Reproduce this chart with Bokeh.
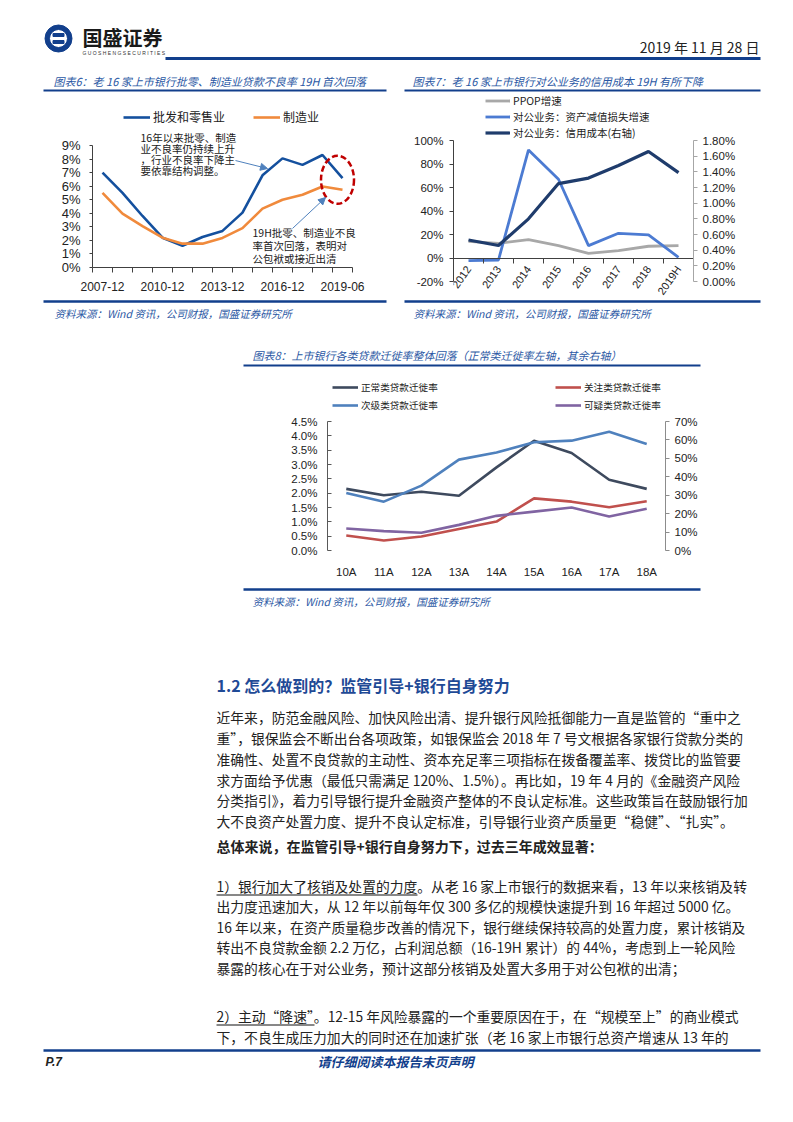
import numpy as np
from bokeh.plotting import figure
from bokeh.models import (Range1d, FixedTicker, PrintfTickFormatter, LinearAxis,
                          Legend, LegendItem, Label, Arrow, NormalHead)
from bokeh.layouts import column, row
from bokeh.embed import file_html
from bokeh.resources import INLINE
from bokeh.core.properties import value

# ---------------- data ----------------
# Chart 6: NPL ratio by industry (%)
cats6 = ["2007-12", "2008-12", "2009-12", "2010-12", "2011-12", "2012-12", "2013-12",
         "2014-12", "2015-12", "2016-12", "2017-12", "2018-12", "2019-06"]
wholesale_retail = [7.0, 5.5, 3.8, 2.2, 1.6, 2.25, 2.7, 4.05, 6.8, 8.05, 7.57, 8.3, 6.6]
manufacturing = [5.5, 3.97, 3.06, 2.2, 1.76, 1.76, 2.18, 2.9, 4.34, 5.0, 5.37, 5.98, 5.74]
label_step6 = 3
ticks6 = list(range(0, 10))

# Chart 7
cats7 = ["2012", "2013", "2014", "2015", "2016", "2017", "2018", "2019H"]
ppop_growth = [14.2, 12.5, 15.6, 10.5, 4.0, 6.2, 10.0, 10.5]
impair_growth = [-2.3, -1.7, 92.0, 67.0, 10.5, 21.0, 19.6, 0.6]
credit_cost = [0.53, 0.46, 0.80, 1.25, 1.32, 1.48, 1.66, 1.39]
ticks7_left = list(range(-20, 101, 20))
ticks7_right = [round(0.2 * k, 1) for k in range(10)]

# Chart 8
cats8 = ["10A", "11A", "12A", "13A", "14A", "15A", "16A", "17A", "18A"]
normal_mig = [2.15, 1.93, 2.05, 1.91, 2.9, 3.83, 3.4, 2.47, 2.15]
special_mig = [8.1, 5.4, 7.6, 11.7, 15.7, 28.3, 26.5, 23.5, 26.7]
substd_mig = [31.2, 26.5, 35.2, 49.3, 53.2, 58.7, 59.6, 64.4, 57.8]
doubt_mig = [11.9, 10.5, 9.6, 13.9, 18.8, 21.1, 23.3, 18.4, 22.6]
ticks8_left = [round(0.5 * k, 1) for k in range(10)]
ticks8_right = list(range(0, 71, 10))

# ---------------- styles ----------------
CJK = "Noto Sans CJK SC"
NUM = "Liberation Sans"
BRAND = "#123F8C"
TBLUE = "#2B58A4"
DARK = "#222222"
W = 793


def page_fig(top, bottom):
    p = figure(width=W, height=bottom - top, x_range=Range1d(0, W),
               y_range=Range1d(bottom, top), x_axis_type=None, y_axis_type=None,
               toolbar_location=None, output_backend="svg", min_border=0,
               min_border_left=0, min_border_right=0, min_border_top=0,
               min_border_bottom=0, outline_line_color=None)
    return p


def txt(p, x, y, s, size, color=DARK, style="normal", align="left", font=CJK):
    p.text(x=[x], y=[y], text=[s], text_font=value(font), text_font_size=size,
           text_color=color, text_font_style=style, text_align=align,
           text_baseline="middle")


def rule(p, x0, x1, y, w=2.0, color=BRAND):
    p.segment(x0=[x0], y0=[y], x1=[x1], y1=[y], line_color=color, line_width=w)


def style_axis(ax, size="11px", color="#404040"):
    ax.major_label_text_font = NUM
    ax.major_label_text_font_size = size
    ax.major_label_text_color = DARK
    ax.axis_line_color = color
    ax.major_tick_line_color = color
    ax.minor_tick_line_color = color
    ax.axis_line_width = 1


# ---------------- header (page y 0..92) ----------------
pA = page_fig(0, 92)
pA.annulus(x=[58], y=[38], inner_radius=9, outer_radius=13.5, color=BRAND)
pA.rect(x=[58], y=[34.5], width=11, height=3, color=BRAND)
pA.rect(x=[58], y=[41.5], width=11, height=3, color=BRAND)
txt(pA, 82, 37, "国盛证券", "20px", color="#1a1a1a", style="bold")
txt(pA, 82, 52, "G U O S H E N G   S E C U R I T I E S", "5px", color="#333333", font=NUM)
txt(pA, 759, 46, "2019 年 11 月 28 日", "14px", color=DARK, align="right")
rule(pA, 165, 760, 58, w=3)
txt(pA, 53, 80, "图表6：老 16 家上市银行批零、制造业贷款不良率 19H 首次回落", "11px",
    color=TBLUE, style="italic")
txt(pA, 412, 80, "图表7：老 16 家上市银行对公业务的信用成本 19H 有所下降", "11px",
    color=TBLUE, style="italic")
rule(pA, 43, 386, 90, w=2)
rule(pA, 404, 760, 90, w=2)

# ---------------- chart 6 (page x 0..400, y 92..298) ----------------
n6 = len(cats6)
x6 = list(range(n6))
# pixel geometry: frame 92..267 vertically, 0% at 267, 9% at 145; x 92..360 (category axis to 352)
px_per6 = (267 - 145) / 9.0
y6_end = (267 - 92) / px_per6
x6_end = (n6 - 0.5) + (360 - 352) / 20.0
p6 = figure(width=400, height=206, x_range=Range1d(-0.5, x6_end), y_range=Range1d(0, y6_end),
            toolbar_location=None, output_backend="svg", min_border_left=92,
            min_border_right=40, min_border_top=0, min_border_bottom=31,
            outline_line_color=None)
p6.grid.visible = False
r_w = p6.line(x6, wholesale_retail, line_color="#14509E", line_width=2.6)
r_m = p6.line(x6, manufacturing, line_color="#F08A3C", line_width=2.6)
xa6 = p6.xaxis[0]
major6 = x6[::label_step6]
xa6.ticker = FixedTicker(ticks=major6, minor_ticks=[i - 0.5 for i in range(n6 + 1)])
xa6.major_label_overrides = {i: cats6[i] for i in major6}
xa6.bounds = (-0.5, n6 - 0.5)
style_axis(xa6, "12px")
xa6.major_tick_out = 0
xa6.major_tick_in = 0
xa6.minor_tick_out = 5
xa6.minor_tick_in = 0
xa6.major_label_standoff = 9
ya6 = p6.yaxis[0]
ya6.ticker = FixedTicker(ticks=ticks6)
ya6.formatter = PrintfTickFormatter(format="%d%%")
ya6.bounds = (ticks6[0], ticks6[-1])
style_axis(ya6, "13px")
ya6.major_tick_out = 3
ya6.major_tick_in = 0
ya6.minor_tick_out = 0
ya6.major_label_standoff = 9

leg6 = Legend(items=[LegendItem(label="批发和零售业", renderers=[r_w]),
                     LegendItem(label="制造业", renderers=[r_m])],
              location=(31, 142), orientation="horizontal", label_text_font=CJK,
              label_text_font_size="12px", label_text_color=DARK, glyph_width=27,
              glyph_height=14, label_height=14, label_standoff=3, spacing=28,
              padding=0, margin=0, border_line_color=None, background_fill_alpha=0)
p6.add_layout(leg6)

ANN = "#1a1a1a"
for s, yy in zip(["16年以来批零、制造", "业不良率仍持续上升", "，行业不良率下降主", "要依靠结构调整。"],
                 [9.59, 8.78, 7.97, 7.16]):
    p6.add_layout(Label(x=1.9, y=yy, text=s, text_font=CJK, text_font_size="10.5px",
                        text_color=ANN, text_baseline="middle"))
for s, yy in zip(["19H批零、制造业不良", "率首次回落，表明对", "公包袱或接近出清"],
                 [2.58, 1.62, 0.66]):
    p6.add_layout(Label(x=7.5, y=yy, text=s, text_font=CJK, text_font_size="10.5px",
                        text_color=ANN, text_baseline="middle"))
AC = "#4F81BD"
p6.add_layout(Arrow(end=NormalHead(size=7, fill_color=AC, line_color=AC),
                    x_start=6.65, y_start=7.89, x_end=8.25, y_end=7.30,
                    line_color=AC, line_width=1))
p6.add_layout(Arrow(end=NormalHead(size=7, fill_color=AC, line_color=AC),
                    x_start=9.5, y_start=2.88, x_end=11.15, y_end=5.16,
                    line_color=AC, line_width=1))
p6.ellipse(x=[n6 - 1 - 0.25], y=[(wholesale_retail[-1] + manufacturing[-1]) / 2 + 0.3],
           width=33, height=48, width_units="screen", height_units="screen",
           fill_color=None, line_color="#C00000", line_width=2.5, line_dash="6 3")

# ---------------- chart 7 (page x 400..793, y 92..298) ----------------
n7 = len(cats7)
x7 = list(range(n7))
# pixel geometry: -20% at 281, 100% at 140; frame 92..298
F7_BOT = 298
ppu7 = (281 - 140) / 120.0
y7_start = -20 - (F7_BOT - 281) / ppu7
y7_end = 100 + (140 - 92) / ppu7
ppu7r = (281 - 140) / 1.8
r7_start = 0 - (F7_BOT - 281) / ppu7r
r7_end = 1.8 + (140 - 92) / ppu7r
p7 = figure(width=393, height=206, x_range=Range1d(-0.5, n7 - 0.5),
            y_range=Range1d(y7_start, y7_end),
            toolbar_location=None, output_backend="svg", min_border_left=53,
            min_border_right=100, min_border_top=0, min_border_bottom=0,
            outline_line_color=None)
p7.grid.visible = False
p7.extra_y_ranges = {"cc": Range1d(r7_start, r7_end)}
r_p = p7.line(x7, ppop_growth, line_color="#A8A8A8", line_width=2.8)
r_i = p7.line(x7, impair_growth, line_color="#4C7BD2", line_width=2.8)
r_c = p7.line(x7, credit_cost, line_color="#1F3C6C", line_width=3.2, y_range_name="cc")
xa7 = p7.xaxis[0]
xa7.fixed_location = 0
xa7.ticker = FixedTicker(ticks=x7, minor_ticks=[i - 0.5 for i in range(n7 + 1)])
xa7.major_label_overrides = {i: cats7[i] for i in x7}
style_axis(xa7, "11px")
xa7.major_tick_out = 0
xa7.major_tick_in = 0
xa7.minor_tick_out = 5
xa7.minor_tick_in = 0
xa7.major_label_orientation = 0.96
xa7.major_label_standoff = 4
ya7 = p7.yaxis[0]
ya7.ticker = FixedTicker(ticks=ticks7_left)
ya7.formatter = PrintfTickFormatter(format="%d%%")
ya7.bounds = (ticks7_left[0], ticks7_left[-1])
style_axis(ya7, "11.5px")
ya7.major_tick_out = 4
ya7.major_tick_in = 0
ya7.minor_tick_out = 0
ya7.major_label_standoff = 6
ra7 = LinearAxis(y_range_name="cc")
ra7.ticker = FixedTicker(ticks=ticks7_right)
ra7.formatter = PrintfTickFormatter(format="%.2f%%")
ra7.bounds = (ticks7_right[0], ticks7_right[-1])
style_axis(ra7, "11.5px", color="#A6A6A6")
ra7.major_tick_out = 4
ra7.major_tick_in = 0
ra7.minor_tick_out = 0
ra7.major_label_standoff = 5
p7.add_layout(ra7, "right")
leg7 = Legend(items=[LegendItem(label="PPOP增速", renderers=[r_p]),
                     LegendItem(label="对公业务：资产减值损失增速", renderers=[r_i]),
                     LegendItem(label="对公业务：信用成本(右轴)", renderers=[r_c])],
              location=(32, F7_BOT - 140), orientation="vertical", label_text_font=CJK,
              label_text_font_size="10.5px", label_text_color=DARK, glyph_width=25,
              glyph_height=15, label_height=15, label_standoff=3, spacing=1,
              padding=0, margin=0, border_line_color=None, background_fill_alpha=0)
p7.add_layout(leg7)

# ---------------- middle strip (page y 298..370) ----------------
pC = page_fig(298, 370)
rule(pC, 43, 386, 301, w=2.5)
rule(pC, 404, 760, 301, w=2.5)
SRC = "资料来源：Wind 资讯，公司财报，国盛证券研究所"
txt(pC, 54, 313, SRC, "10.5px", color=TBLUE, style="italic")
txt(pC, 413, 313, SRC, "10.5px", color=TBLUE, style="italic")
txt(pC, 252, 354, "图表8：上市银行各类贷款迁徙率整体回落（正常类迁徙率左轴，其余右轴）", "11px",
    color=TBLUE, style="italic")
rule(pC, 243, 700, 365, w=2)

# ---------------- chart 8 (page y 370..580) ----------------
n8 = len(cats8)
x8 = list(range(n8))
# pixel geometry: 0 at 550, 4.5% / 70% at 421; frame 370..550
y8_end = 4.5 * (550 - 370) / (550 - 421)
r8_end = 70 * (550 - 370) / (550 - 421)
p8 = figure(width=W, height=210, x_range=Range1d(-0.5, n8 - 0.5), y_range=Range1d(0, y8_end),
            toolbar_location=None, output_backend="svg", min_border_left=327,
            min_border_right=128, min_border_top=0, min_border_bottom=30,
            outline_line_color=None)
p8.grid.visible = False
p8.extra_y_ranges = {"r": Range1d(0, r8_end)}
r_n = p8.line(x8, normal_mig, line_color="#3E4A5E", line_width=2.6)
r_s = p8.line(x8, special_mig, line_color="#C0504D", line_width=2.6, y_range_name="r")
r_b = p8.line(x8, substd_mig, line_color="#4F81BD", line_width=2.6, y_range_name="r")
r_d = p8.line(x8, doubt_mig, line_color="#8064A2", line_width=2.6, y_range_name="r")
xa8 = p8.xaxis[0]
xa8.ticker = FixedTicker(ticks=x8)
xa8.major_label_overrides = {i: cats8[i] for i in x8}
style_axis(xa8, "11.5px")
xa8.axis_line_color = None
xa8.major_tick_line_color = None
xa8.minor_tick_line_color = None
xa8.major_label_standoff = 9
ya8 = p8.yaxis[0]
ya8.ticker = FixedTicker(ticks=ticks8_left)
ya8.formatter = PrintfTickFormatter(format="%.1f%%")
ya8.bounds = (ticks8_left[0], ticks8_left[-1])
style_axis(ya8, "11.5px", color="#595959")
ya8.major_tick_out = 0
ya8.major_tick_in = 4
ya8.minor_tick_out = 0
ya8.major_label_standoff = 10
ra8 = LinearAxis(y_range_name="r")
ra8.ticker = FixedTicker(ticks=ticks8_right)
ra8.formatter = PrintfTickFormatter(format="%d%%")
ra8.bounds = (ticks8_right[0], ticks8_right[-1])
style_axis(ra8, "11.5px", color="#8C8C8C")
ra8.major_tick_out = 4
ra8.major_tick_in = 0
ra8.minor_tick_out = 0
ra8.major_label_standoff = 5
p8.add_layout(ra8, "right")
leg_kw = dict(orientation="vertical", label_text_font=CJK, label_text_font_size="9.6px",
              label_text_color=DARK, glyph_width=26, glyph_height=14, label_height=14,
              label_standoff=3, spacing=4, padding=0, margin=0,
              border_line_color=None, background_fill_alpha=0)
p8.add_layout(Legend(items=[LegendItem(label="正常类贷款迁徙率", renderers=[r_n]),
                            LegendItem(label="次级类贷款迁徙率", renderers=[r_b])],
                     location=(5, 138), **leg_kw))
p8.add_layout(Legend(items=[LegendItem(label="关注类贷款迁徙率", renderers=[r_s]),
                            LegendItem(label="可疑类贷款迁徙率", renderers=[r_d])],
                     location=(228, 138), **leg_kw))

# ---------------- body text (page y 580..1122) ----------------
pE = page_fig(580, 1122)
rule(pE, 243, 700, 589, w=2.5)
txt(pE, 252, 601, SRC, "10.5px", color=TBLUE, style="italic")
txt(pE, 216, 684, "1.2  怎么做到的？监管引导+银行自身努力", "16px", color="#1F4A96", style="bold")

para0 = ["近年来，防范金融风险、加快风险出清、提升银行风险抵御能力一直是监管的“重中之",
         "重”，银保监会不断出台各项政策，如银保监会 2018 年 7 号文根据各家银行贷款分类的",
         "准确性、处置不良贷款的主动性、资本充足率三项指标在拨备覆盖率、拨贷比的监管要",
         "求方面给予优惠（最低只需满足 120%、1.5%）。再比如，19 年 4 月的《金融资产风险",
         "分类指引》，着力引导银行提升金融资产整体的不良认定标准。这些政策旨在鼓励银行加",
         "大不良资产处置力度、提升不良认定标准，引导银行业资产质量更“稳健”、“扎实”。"]
for s, yy in zip(para0, [716, 737, 758, 779, 799, 820]):
    txt(pE, 216, yy, s, "13.8px")
txt(pE, 216, 845, "总体来说，在监管引导+银行自身努力下，过去三年成效显著：", "14px", style="bold")
para1 = ["1）银行加大了核销及处置的力度。从老 16 家上市银行的数据来看，13 年以来核销及转",
         "出力度迅速加大，从 12 年以前每年仅 300 多亿的规模快速提升到 16 年超过 5000 亿。",
         "16 年以来，在资产质量稳步改善的情况下，银行继续保持较高的处置力度，累计核销及",
         "转出不良贷款金额 2.2 万亿，占利润总额（16-19H 累计）的 44%，考虑到上一轮风险",
         "暴露的核心在于对公业务，预计这部分核销及处置大多用于对公包袱的出清；"]
for s, yy in zip(para1, [885, 905, 926, 946, 967]):
    txt(pE, 216, yy, s, "13.8px")
rule(pE, 216, 417, 894.5, w=1, color="#111111")
para2 = ["2）主动“降速”。12-15 年风险暴露的一个重要原因在于，在“规模至上”的商业模式",
         "下，不良生成压力加大的同时还在加速扩张（老 16 家上市银行总资产增速从 13 年的"]
for s, yy in zip(para2, [1015, 1036]):
    txt(pE, 216, yy, s, "13.8px")
rule(pE, 216, 314, 1024.5, w=1, color="#111111")
rule(pE, 43, 760, 1050, w=2.5)
txt(pE, 45, 1061, "P.7", "12px", color=DARK, style="bold italic", font=NUM)
txt(pE, 395, 1061, "请仔细阅读本报告末页声明", "13px", color=BRAND, style="bold italic", align="center")

layout = column(row(pA), row(column(p6), column(p7)), row(pC), row(p8), row(pE))
open("out.html", "w").write(file_html(layout, INLINE))
